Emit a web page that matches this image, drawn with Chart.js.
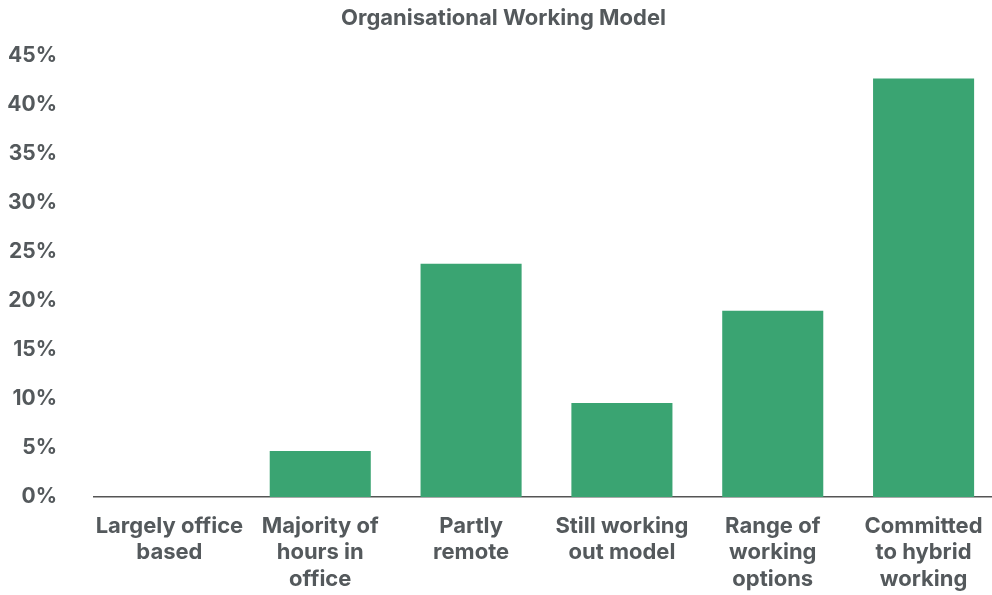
<!DOCTYPE html>
<html>
<head>
<meta charset="utf-8">
<script src="https://cdn.jsdelivr.net/npm/chart.js@4"></script>
<style>
	html, body { margin: 0; padding: 0; background: #fff; overflow: hidden; }
	#wrap { width: 999px; height: 595px; }
</style>
</head>
<body>
<div id="wrap"><canvas id="workingModelChart"></canvas></div>
<script>
const categories = [
	["Largely office", "based"],
	["Majority of", "hours in", "office"],
	["Partly", "remote"],
	["Still working", "out model"],
	["Range of", "working", "options"],
	["Committed", "to hybrid", "working"]
];
const shares = [0, 4.7, 23.8, 9.6, 19.0, 42.7];
const yTicks = [0, 5, 10, 15, 20, 25, 30, 35, 40, 45];

const textGrey = '#54595c';
const barGreen = '#3aa472';

Chart.defaults.font.family = 'Inter, "Noto Sans", sans-serif';
Chart.defaults.font.weight = 'bold';

let ctx = document.getElementById('workingModelChart');

// canvas is a few px wider than the window: the last bar's slot runs past the edge
new Chart(ctx, {
	type: 'bar',
	data: {
		labels: categories,
		datasets: [{
			data: shares,
			backgroundColor: barGreen,
			barPercentage: 0.67,
			categoryPercentage: 1
		}]
	},
	options: {
		responsive: true,
		maintainAspectRatio: false,
		animation: false,
		events: [],
		layout: { padding: { left: 8, right: 0, top: 0, bottom: 0 } },
		plugins: {
			legend: { display: false },
			tooltip: { enabled: false },
			title: {
				display: true,
				text: 'Organisational Working Model',
				color: textGrey,
				font: { size: 22, weight: 'bold' },
				padding: { top: 5, bottom: 24.6 }
			}
		},
		scales: {
			x: {
				grid: { display: false, drawTicks: false },
				border: { display: true, color: '#555', width: 1.5 },
				ticks: {
					color: textGrey,
					font: { size: 22, weight: 'bold', lineHeight: 1.2 },
					padding: 16,
					maxRotation: 0,
					autoSkip: false
				},
				afterFit: function(axis) {
					axis.height = 98;
				}
			},
			y: {
				min: 0,
				max: 45,
				grid: { display: false, drawTicks: false },
				border: { display: false },
				afterBuildTicks: function(axis) {
					axis.ticks = yTicks.map(v => ({ value: v }));
				},
				ticks: {
					color: textGrey,
					font: { size: 21, weight: 'bold' },
					padding: 37,
					callback: function(value) { return value + '%'; }
				},
				afterFit: function(axis) {
					axis.width = 86;
				}
			}
		}
	}
});
</script>
</body>
</html>
